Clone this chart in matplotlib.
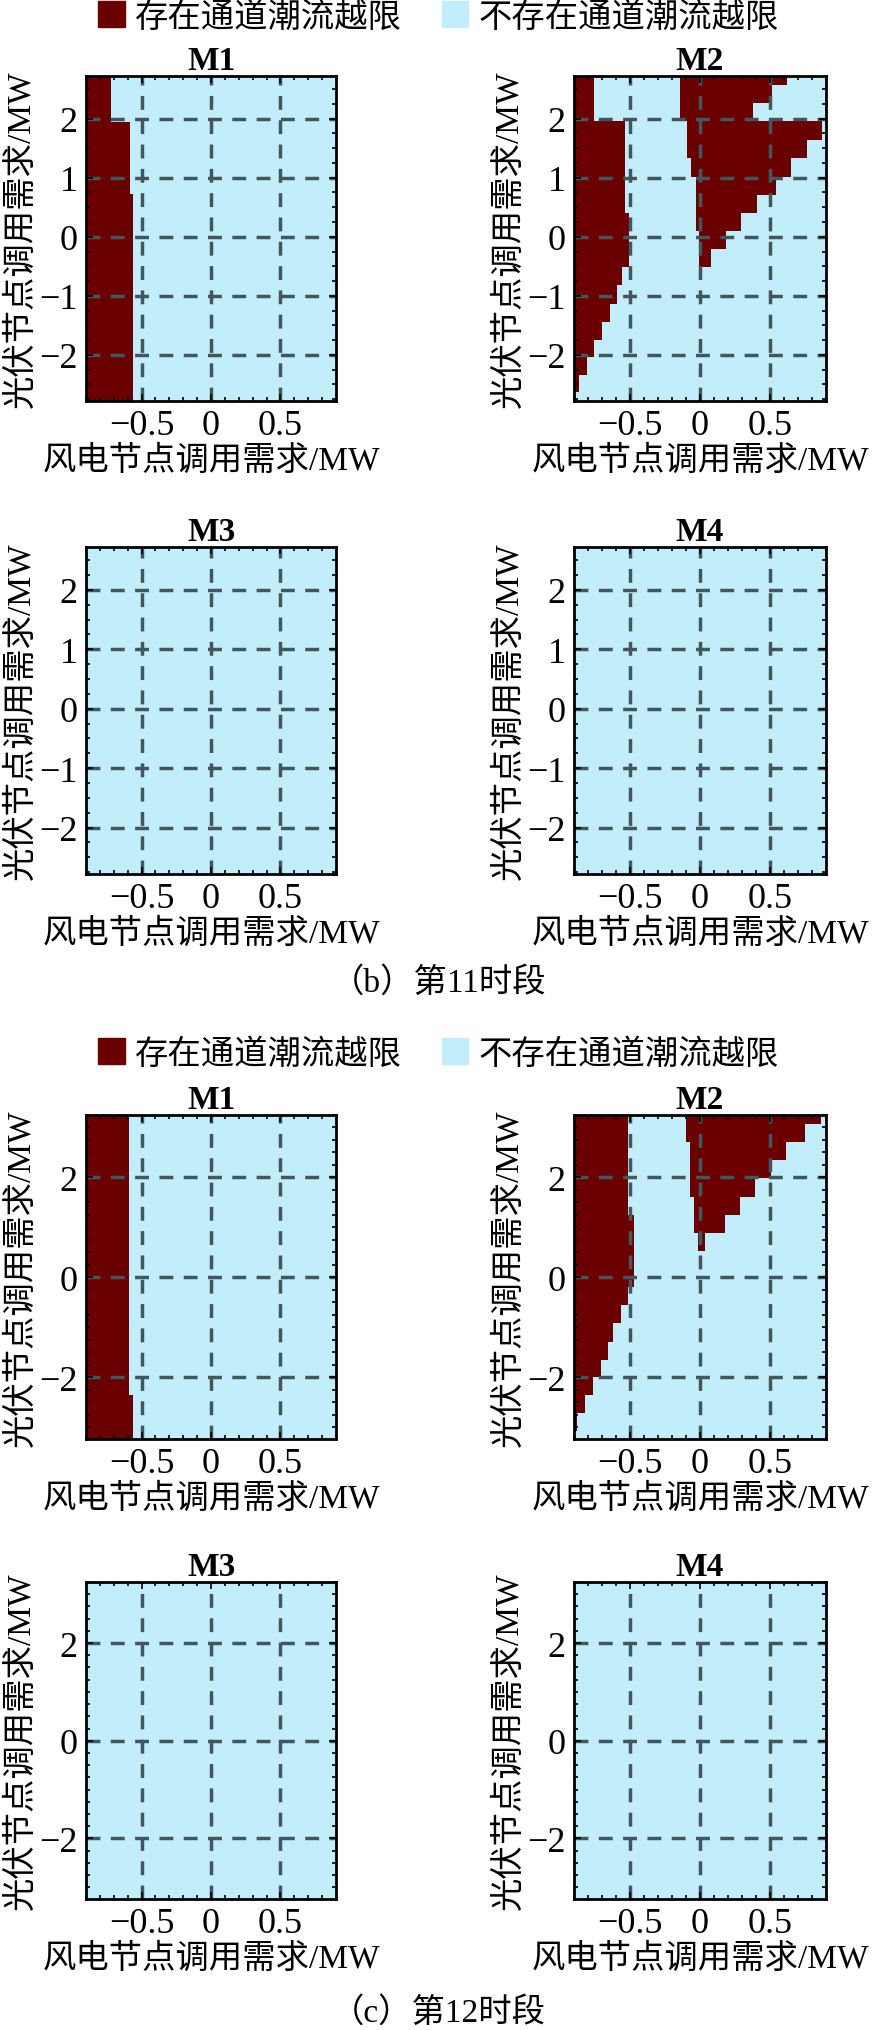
import matplotlib
matplotlib.use("Agg")
import matplotlib.pyplot as plt
from matplotlib.patches import Patch
from matplotlib.ticker import MultipleLocator

FONT = ['Liberation Serif', 'Noto Sans CJK SC']
plt.rcParams['font.family'] = FONT
plt.rcParams['axes.unicode_minus'] = True

RED = '#6b0000'
BLUE = '#c2eefc'
GRIDC = '#44555c'

legend_labels = ['存在通道潮流越限', '不存在通道潮流越限']
xlabel = '风电节点调用需求/MW'
ylabel = '光伏节点调用需求/MW'
captions = ['（b）第11时段', '（c）第12时段']
titles = ['M1', 'M2', 'M3', 'M4']

# Each region: list of rows (y_low, y_high, x_left, x_right)
# Period 11
b_M1 = [(1.94, 2.75, -0.95, -0.719), (0.72, 1.94, -0.95, -0.583), (-2.85, 0.72, -0.95, -0.56)]
b_M2 = [(1.96, 2.75, -0.95, -0.757), (0.41, 1.96, -0.95, -0.535), (-0.51, 0.41, -0.95, -0.507),
        (-0.82, -0.51, -0.95, -0.56), (-1.13, -0.82, -0.95, -0.59), (-1.44, -1.13, -0.95, -0.64),
        (-1.75, -1.44, -0.95, -0.70), (-2.03, -1.75, -0.95, -0.757), (-2.34, -2.03, -0.95, -0.81),
        (-2.63, -2.34, -0.95, -0.865),
        (2.56, 2.75, -0.143, 0.624), (2.27, 2.56, -0.143, 0.512), (1.96, 2.27, -0.143, 0.379),
        (1.64, 1.96, -0.09, 0.874), (1.33, 1.64, -0.09, 0.767), (1.01, 1.33, -0.062, 0.652),
        (0.70, 1.01, -0.031, 0.54), (0.40, 0.70, -0.031, 0.405), (0.09, 0.40, -0.031, 0.295),
        (-0.21, 0.09, -0.007, 0.186), (-0.51, -0.21, -0.007, 0.076)]
b_M3 = [(-0.5, -0.2, -0.95, -0.895)]
b_M4 = [(-0.5, -0.2, -0.95, -0.897)]
# Period 12
c_M1 = [(-2.35, 3.3, -0.95, -0.588), (-3.3, -2.35, -0.95, -0.564)]
c_M2 = [(1.25, 3.3, -0.95, -0.516), (-0.19, 1.25, -0.95, -0.468), (-0.55, -0.19, -0.95, -0.516),
        (-0.92, -0.55, -0.95, -0.566), (-1.29, -0.92, -0.95, -0.623), (-1.65, -1.29, -0.95, -0.654),
        (-1.99, -1.65, -0.95, -0.709), (-2.35, -1.99, -0.95, -0.762), (-2.72, -2.35, -0.95, -0.821),
        (-3.07, -2.72, -0.95, -0.877),
        (3.07, 3.3, -0.10, 0.862), (2.71, 3.07, -0.10, 0.749), (2.35, 2.71, -0.074, 0.616),
        (1.98, 2.35, -0.074, 0.504), (1.61, 1.98, -0.074, 0.396), (1.25, 1.61, -0.045, 0.289),
        (0.89, 1.25, -0.045, 0.177), (0.53, 0.89, -0.017, 0.038)]
c_M3 = []
c_M4 = [(-0.95, -0.61, -0.95, -0.90)]

periods = [
    dict(regions=[b_M1, b_M2, b_M3, b_M4], ylim=(-2.78, 2.72), yticks=[-2, -1, 0, 1, 2],
         rows=[(77, 402), (548, 875)], legend_y=18, caption_y=983),
    dict(regions=[c_M1, c_M2, c_M3, c_M4], ylim=(-3.24, 3.25), yticks=[-2, 0, 2],
         rows=[(1116, 1440), (1583, 1900)], legend_y=1055, caption_y=2013),
]
cols = [(86, 336), (574, 826)]

W, H = 877, 2031
fig = plt.figure(figsize=(W / 100, H / 100), dpi=100)
FS = 24

for k, p in enumerate(periods):
    for i in range(4):
        r, c = divmod(i, 2)
        top, bot = p['rows'][r]
        left, right = cols[c]
        ax = fig.add_axes([left / W, 1 - bot / H, (right - left) / W, (bot - top) / H])
        ax.set_facecolor(BLUE)
        for (y0, y1, x0, x1) in p['regions'][i]:
            ax.barh((y0 + y1) / 2, x1 - x0, height=y1 - y0, left=x0, color=RED, linewidth=0, zorder=1)
        ax.set_xlim(-0.9, 0.9)
        ax.set_ylim(*p['ylim'])
        ax.set_xticks([-0.5, 0, 0.5])
        ax.set_xticklabels(['\u22120.5', '0', '0.5'])
        ax.set_yticks(p['yticks'])
        ax.set_yticklabels([('\u2212' + str(-v)) if v < 0 else str(v) for v in p['yticks']])
        ax.xaxis.set_minor_locator(MultipleLocator(0.1))
        ax.yaxis.set_minor_locator(MultipleLocator(0.25))
        ax.tick_params(which='both', direction='in', top=True, right=True, labelsize=FS + 2, width=1.2, pad=6)
        ax.tick_params(which='major', length=5)
        ax.tick_params(which='minor', length=3)
        ax.grid(True, linestyle=(0, (4, 3)), color=GRIDC, linewidth=2.5, zorder=2)
        ax.set_axisbelow(False)
        for s in ax.spines.values():
            s.set_linewidth(2)
            s.set_zorder(3)
        ax.set_title(titles[i], fontsize=FS, fontweight='bold', pad=3)
        ax.set_xlabel(xlabel, fontsize=FS, labelpad=2)
        ax.set_ylabel(ylabel, fontsize=FS, labelpad=2)
    handles = [Patch(color=RED), Patch(color=BLUE)]
    fig.legend(handles, legend_labels, loc='center', ncol=2, frameon=False, fontsize=FS,
               bbox_to_anchor=(0.5, 1 - p['legend_y'] / H), handlelength=0.8, handleheight=0.8,
               handletextpad=0.3, columnspacing=1.2)
    fig.text(0.5, 1 - p['caption_y'] / H, captions[k], ha='center', va='center', fontsize=FS)

fig.savefig('out.png', dpi=100, facecolor='white')
